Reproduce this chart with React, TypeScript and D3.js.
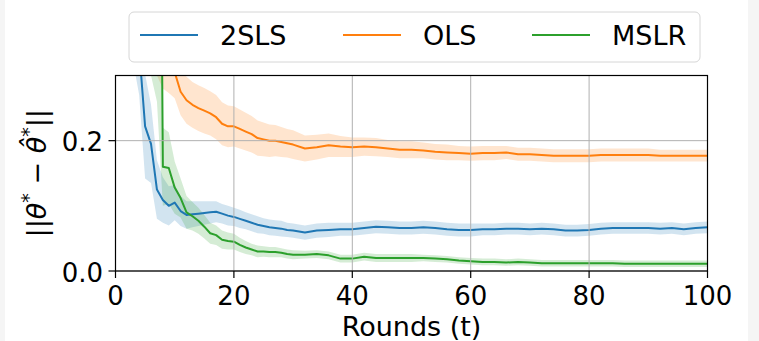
import React, { useRef, useEffect } from "react";
import * as d3 from "d3";

// rounds: every round up to 30, then every second round
const rounds = [
  1, 2, 3, 4, 5, 6, 7, 8, 9, 10, 11, 12, 13, 14, 15, 16, 17, 18, 19, 20, 21,
  22, 23, 24, 25, 26, 27, 28, 29, 30, 32, 34, 36, 38, 40, 42, 44, 46, 48, 50,
  52, 54, 56, 58, 60, 62, 64, 66, 68, 70, 72, 74, 76, 78, 80, 82, 84, 86, 88,
  90, 92, 94, 96, 98, 100,
];

const twoSlsMean = [
  0.6, 0.5, 0.42, 0.34, 0.222, 0.195, 0.125, 0.109, 0.1, 0.105,
  0.092, 0.086, 0.087, 0.088, 0.089, 0.09, 0.091, 0.088, 0.085, 0.083,
  0.08, 0.077, 0.074, 0.071, 0.069, 0.067, 0.066, 0.065, 0.063, 0.062,
  0.059, 0.062, 0.063, 0.064, 0.064, 0.066, 0.068, 0.067, 0.066, 0.066,
  0.067, 0.066, 0.064, 0.063, 0.063, 0.064, 0.064, 0.065, 0.065, 0.064,
  0.065, 0.064, 0.062, 0.062, 0.063, 0.065, 0.066, 0.066, 0.066, 0.066,
  0.065, 0.066, 0.064, 0.066, 0.067,
];
const twoSlsSpread = [
  0.12, 0.11, 0.1, 0.07, 0.08, 0.06, 0.045, 0.035, 0.03, 0.027,
  0.023, 0.021, 0.02, 0.019, 0.018, 0.017, 0.016, 0.015, 0.015, 0.014,
  0.014, 0.013, 0.013, 0.013, 0.012, 0.012, 0.012, 0.012, 0.011, 0.011,
  0.011, 0.011, 0.011, 0.01, 0.01, 0.01, 0.01, 0.01, 0.01, 0.01,
  0.01, 0.01, 0.01, 0.01, 0.01, 0.009, 0.009, 0.009, 0.009, 0.009,
  0.009, 0.009, 0.009, 0.009, 0.009, 0.009, 0.009, 0.009, 0.009, 0.009,
  0.009, 0.009, 0.009, 0.009, 0.009,
];

const olsMean = [
  0.7, 0.6, 0.52, 0.46, 0.42, 0.38, 0.35, 0.33, 0.318, 0.305,
  0.275, 0.262, 0.255, 0.25, 0.246, 0.242, 0.236, 0.226, 0.222, 0.222,
  0.218, 0.214, 0.21, 0.204, 0.202, 0.2, 0.2, 0.198, 0.196, 0.194,
  0.188, 0.19, 0.193, 0.191, 0.19, 0.191, 0.19, 0.188, 0.186, 0.186,
  0.185, 0.183, 0.182, 0.181, 0.18, 0.181, 0.181, 0.182, 0.179, 0.179,
  0.178, 0.177, 0.177, 0.177, 0.177, 0.178, 0.178, 0.178, 0.178, 0.178,
  0.177, 0.177, 0.177, 0.177, 0.177,
];
const olsSpread = [
  0.05, 0.05, 0.05, 0.05, 0.05, 0.05, 0.05, 0.05, 0.045, 0.04,
  0.036, 0.036, 0.035, 0.035, 0.035, 0.034, 0.034, 0.033, 0.032, 0.031,
  0.03, 0.029, 0.028, 0.027, 0.026, 0.025, 0.024, 0.023, 0.022, 0.022,
  0.02, 0.019, 0.018, 0.016, 0.015, 0.014, 0.014, 0.013, 0.013, 0.013,
  0.012, 0.012, 0.012, 0.011, 0.011, 0.011, 0.011, 0.01, 0.01, 0.01,
  0.01, 0.01, 0.01, 0.01, 0.01, 0.01, 0.01, 0.01, 0.01, 0.01,
  0.009, 0.009, 0.009, 0.009, 0.009,
];

const mslrMean = [
  2.2, 2.0, 1.9, 1.8, 1.7, 1.6, 1.4, 0.16, 0.158, 0.128,
  0.112, 0.09, 0.084, 0.077, 0.068, 0.058, 0.055, 0.048, 0.046, 0.045,
  0.04, 0.036, 0.033, 0.03, 0.03, 0.029, 0.029, 0.028, 0.026, 0.025,
  0.025, 0.026, 0.024, 0.019, 0.019, 0.022, 0.02, 0.02, 0.02, 0.02,
  0.02, 0.019, 0.018, 0.016, 0.015, 0.014, 0.014, 0.013, 0.014, 0.013,
  0.012, 0.012, 0.012, 0.012, 0.012, 0.012, 0.012, 0.011, 0.011, 0.011,
  0.011, 0.011, 0.011, 0.011, 0.011,
];
const mslrSpread = [
  1.9, 1.7, 1.6, 1.5, 1.4, 1.3, 1.14, 0.06, 0.055, 0.04,
  0.03, 0.025, 0.022, 0.02, 0.018, 0.016, 0.015, 0.014, 0.013, 0.012,
  0.011, 0.01, 0.009, 0.009, 0.008, 0.008, 0.008, 0.007, 0.007, 0.007,
  0.006, 0.006, 0.006, 0.006, 0.006, 0.006, 0.006, 0.006, 0.006, 0.006,
  0.005, 0.005, 0.005, 0.005, 0.005, 0.005, 0.005, 0.005, 0.005, 0.005,
  0.005, 0.005, 0.005, 0.005, 0.005, 0.005, 0.005, 0.005, 0.005, 0.005,
  0.005, 0.005, 0.005, 0.005, 0.005,
];

const seriesLabels = ["2SLS", "OLS", "MSLR"];
const xTicks = [0, 20, 40, 60, 80, 100];
const yTicks = [0, 0.2];

interface Point {
  t: number;
  mean: number;
  spread: number;
}

const FONT = "'DejaVu Sans', sans-serif";

const ErrorChart: React.FC = () => {
  const ref = useRef<SVGSVGElement | null>(null);

  useEffect(() => {
    const width = 759;
    const height = 341;
    const plot = { left: 115.5, right: 707.5, top: 75.5, bottom: 271 };

    const svg = d3.select(ref.current);
    svg.selectAll("*").remove();
    svg.attr("width", width).attr("height", height);

    // page background + grey window strips at both edges
    svg.append("rect").attr("width", width).attr("height", height).attr("fill", "#fff");
    svg.append("rect").attr("width", 5).attr("height", height).attr("fill", "#f5f5f5");
    svg.append("rect").attr("x", 748).attr("width", 11).attr("height", height).attr("fill", "#f5f5f5");

    const x = d3.scaleLinear().domain([0, 100]).range([plot.left, plot.right]);
    const y = d3.scaleLinear().domain([0, 0.3]).range([plot.bottom, plot.top]);

    const series = [
      { label: seriesLabels[0], color: "#1f77b4", mean: twoSlsMean, spread: twoSlsSpread },
      { label: seriesLabels[1], color: "#ff7f0e", mean: olsMean, spread: olsSpread },
      { label: seriesLabels[2], color: "#2ca02c", mean: mslrMean, spread: mslrSpread },
    ].map((s) => ({
      ...s,
      points: rounds.map((t, i) => ({ t, mean: s.mean[i], spread: s.spread[i] })) as Point[],
    }));

    svg
      .append("defs")
      .append("clipPath")
      .attr("id", "plot-clip")
      .append("rect")
      .attr("x", plot.left)
      .attr("y", plot.top)
      .attr("width", plot.right - plot.left)
      .attr("height", plot.bottom - plot.top);

    const band = d3
      .area<Point>()
      .x((d) => x(d.t))
      .y0((d) => y(d.mean - d.spread))
      .y1((d) => y(d.mean + d.spread));
    const line = d3
      .line<Point>()
      .x((d) => x(d.t))
      .y((d) => y(d.mean));

    const clipped = svg.append("g").attr("clip-path", "url(#plot-clip)");

    // shaded bands sit below the grid
    series.forEach((s) => {
      clipped
        .append("path")
        .datum(s.points)
        .attr("fill", s.color)
        .attr("fill-opacity", 0.2)
        .attr("d", band);
    });

    // grid
    const grid = svg.append("g").attr("stroke", "#b0b0b0").attr("stroke-width", 1);
    xTicks.forEach((t) => {
      grid.append("line").attr("x1", x(t)).attr("x2", x(t)).attr("y1", plot.top).attr("y2", plot.bottom);
    });
    yTicks.forEach((v) => {
      grid.append("line").attr("x1", plot.left).attr("x2", plot.right).attr("y1", y(v)).attr("y2", y(v));
    });

    // mean lines
    series.forEach((s) => {
      clipped
        .append("path")
        .datum(s.points)
        .attr("fill", "none")
        .attr("stroke", s.color)
        .attr("stroke-width", 2)
        .attr("stroke-linejoin", "round")
        .attr("d", line);
    });

    // spines
    svg
      .append("rect")
      .attr("x", plot.left)
      .attr("y", plot.top)
      .attr("width", plot.right - plot.left)
      .attr("height", plot.bottom - plot.top)
      .attr("fill", "none")
      .attr("stroke", "#000")
      .attr("stroke-width", 1.2);

    // x ticks
    xTicks.forEach((t) => {
      svg.append("line").attr("x1", x(t)).attr("x2", x(t)).attr("y1", plot.bottom).attr("y2", plot.bottom + 7)
        .attr("stroke", "#000").attr("stroke-width", 1.2);
      svg.append("text").attr("x", x(t)).attr("y", 305).attr("text-anchor", "middle")
        .style("font-family", FONT).style("font-size", "26px").attr("fill", "#000").text(String(t));
    });

    // y ticks
    yTicks.forEach((v) => {
      svg.append("line").attr("x1", plot.left - 7).attr("x2", plot.left).attr("y1", y(v)).attr("y2", y(v))
        .attr("stroke", "#000").attr("stroke-width", 1.2);
      svg.append("text").attr("x", 103).attr("y", y(v) + 10.5).attr("text-anchor", "end")
        .style("font-family", FONT).style("font-size", "26px").attr("fill", "#000").text(d3.format(".1f")(v));
    });

    // axis labels
    svg.append("text").attr("x", (plot.left + plot.right) / 2).attr("y", 336).attr("text-anchor", "middle")
      .style("font-family", FONT).style("font-size", "27px").attr("fill", "#000").text("Rounds (t)");

    const yLabel = svg.append("text")
      .attr("transform", `translate(45.5,${(plot.top + plot.bottom) / 2}) rotate(-90)`)
      .attr("text-anchor", "middle")
      .style("font-family", FONT)
      .style("font-size", "27px")
      .attr("fill", "#000");
    yLabel.append("tspan").text("||");
    yLabel.append("tspan").style("font-style", "italic").text("θ");
    yLabel.append("tspan").style("font-size", "19px").attr("dy", -11).text("*");
    yLabel.append("tspan").attr("dy", 11).text(" − ");
    yLabel.append("tspan").style("font-style", "italic").text("θ\u0302");
    yLabel.append("tspan").style("font-size", "19px").attr("dy", -11).text("*");
    yLabel.append("tspan").attr("dy", 11).text("||");

    // legend
    const legend = svg.append("g");
    legend.append("rect").attr("x", 129).attr("y", 12).attr("width", 571).attr("height", 50).attr("rx", 5)
      .attr("fill", "#fff").attr("fill-opacity", 0.8).attr("stroke", "#d6d6d6").attr("stroke-width", 1);
    const legendX = [140, 343, 532];
    series.forEach((s, i) => {
      legend.append("line").attr("x1", legendX[i]).attr("x2", legendX[i] + 58).attr("y1", 35).attr("y2", 35)
        .attr("stroke", s.color).attr("stroke-width", 2);
      legend.append("text").attr("x", legendX[i] + 80).attr("y", 45)
        .style("font-family", FONT).style("font-size", "27px").attr("fill", "#000").text(s.label);
    });
  }, []);

  return (
    <svg
      ref={ref}
      style={{ position: "absolute", left: 0, top: 0, display: "block" }}
    />
  );
};

export default function App() {
  return <ErrorChart />;
}
